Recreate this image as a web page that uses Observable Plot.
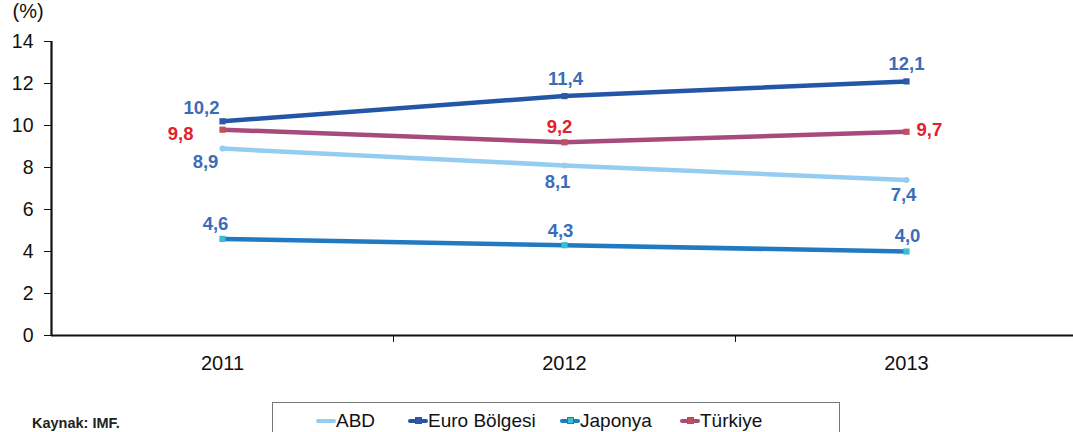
<!DOCTYPE html>
<html><head><meta charset="utf-8">
<script src="https://cdn.jsdelivr.net/npm/d3@7"></script>
<script src="https://cdn.jsdelivr.net/npm/@observablehq/plot@0.6"></script>
<style>
body{margin:0;background:#fff;font-family:"Liberation Sans",Arial,sans-serif;}
#wrap{position:relative;width:1073px;height:432px;overflow:hidden;}
#foot{position:absolute;left:0;top:395px;width:1073px;height:37px;}
#src{position:absolute;left:32px;top:20px;font-size:14.5px;font-weight:bold;color:#222;}
#legend{position:absolute;left:272px;top:7px;width:568px;height:40px;border:1px solid #777;box-sizing:border-box;}
.item{position:absolute;top:7px;font-size:19px;color:#111;display:flex;align-items:center;}
.sw{position:relative;width:20px;height:10px;}
.sw .ln{position:absolute;left:0;right:0;top:3px;height:4px;border-radius:2px;}
.sw .mk{position:absolute;left:7px;top:1px;width:7px;height:7px;box-sizing:border-box;}
#chart svg g[aria-label="y-axis tick label"]{font-size:19.5px;}
#chart svg g[aria-label="x-axis tick label"]{font-size:20px;}
#chart svg g[aria-label="y-axis label"]{font-size:20px;}
</style></head>
<body><div id="wrap"><div id="chart"></div><div id="foot"><div id="src">Kaynak: IMF.</div><div id="legend"></div></div></div>
<script>
const years = ["2011","2012","2013"];
const seriesNames = ["ABD","Euro Bölgesi","Japonya","Türkiye"];
const abd = [8.9, 8.1, 7.4];
const euro = [10.2, 11.4, 12.1];
const japonya = [4.6, 4.3, 4.0];
const turkiye = [9.8, 9.2, 9.7];
const yTicks = [0,2,4,6,8,10,12,14];
const xDomain = [-0.5, 2.5];

const style = {
  "ABD": {line:"#94cdf0", mark:"#94cdf0", label:"#3a6db8", symbol:"circle", r:3},
  "Euro Bölgesi": {line:"#2356a6", mark:"#2f59a8", label:"#3a6db8", symbol:"square", r:3.5},
  "Japonya": {line:"#2179c2", mark:"#3bbfd0", label:"#3a6db8", symbol:"square", r:3.5},
  "Türkiye": {line:"#a64b7c", mark:"#c2505a", label:"#e3202b", symbol:"square", r:3.5}
};
// label placement per series and point index: [dx, dy, anchor]
const place = {
  "ABD": [[-17,13,"middle"],[-7,16.5,"middle"],[-3,14.5,"middle"]],
  "Euro Bölgesi": [[-21,-13,"middle"],[1,-17,"middle"],[0,-17,"middle"]],
  "Japonya": [[-7,-15,"middle"],[-4,-14,"middle"],[1,-15,"middle"]],
  "Türkiye": [[-29,4,"end"],[-5,-15,"middle"],[10,-1.5,"start"]]
};
const values = {"ABD":abd,"Euro Bölgesi":euro,"Japonya":japonya,"Türkiye":turkiye};
const data = seriesNames.flatMap(s => values[s].map((v,i) => ({series:s, i, year:years[i], v})));
const fmt = v => v.toFixed(1).replace(".", ",");

const marks = [
  Plot.axisY({ticks:yTicks, tickSize:7, tickPadding:11, fontSize:19.5, label:"(%)", labelAnchor:"top", labelArrow:"none", labelOffset:39}),
  Plot.axisX({ticks:[0,1,2], tickFormat:i=>years[i], tickSize:0, tickPadding:20, fontSize:20, label:null}),
  Plot.axisX({ticks:[0.5,1.5,2.5], tickFormat:()=>"", tickSize:7, label:null}),
  Plot.ruleY([0], {stroke:"#111", strokeWidth:2.2}),
  Plot.ruleX([xDomain[0]], {stroke:"#111", strokeWidth:2.2})
];
for (const s of seriesNames) {
  const d = data.filter(e => e.series === s);
  const st = style[s];
  marks.push(Plot.line(d, {x:"i", y:"v", stroke:st.line, strokeWidth:4.5}));
  marks.push(Plot.dot(d, {x:"i", y:"v", symbol:st.symbol, r:st.r, fill:st.mark, stroke:"none"}));
  for (let k=0;k<d.length;k++){
    const [dx,dy,anchor] = place[s][k];
    marks.push(Plot.text([d[k]], {x:"i", y:"v", text:e=>fmt(e.v), dx, dy, textAnchor:anchor, fill:st.label, fontSize:18.5, fontWeight:"bold"}));
  }
}
const chart = Plot.plot({
  width:1073, height:395,
  marginLeft:51, marginRight:0, marginTop:41, marginBottom:60,
  style:{fontFamily:"'Liberation Sans', Arial, sans-serif", fontSize:"20px", color:"#111", background:"#fff"},
  x:{type:"linear", domain:xDomain, range:[51,1077]},
  y:{domain:[0,14]},
  marks
});
document.getElementById("chart").appendChild(chart);

const leg = document.getElementById("legend");
const lx = [43, 135, 287, 407];
seriesNames.forEach((s,k)=>{
  const st = style[s];
  const it = document.createElement("div");
  it.className="item"; it.style.left = lx[k]+"px";
  const sw = document.createElement("div"); sw.className="sw";
  const ln = document.createElement("div"); ln.className="ln"; ln.style.background = st.line; sw.appendChild(ln);
  if (s!=="ABD"){ const mk=document.createElement("div"); mk.className="mk"; mk.style.background=st.mark; mk.style.border="1px solid "+st.line; sw.appendChild(mk); }
  it.appendChild(sw);
  const tx=document.createElement("span"); tx.textContent=s; it.appendChild(tx);
  leg.appendChild(it);
});
</script></body></html>
